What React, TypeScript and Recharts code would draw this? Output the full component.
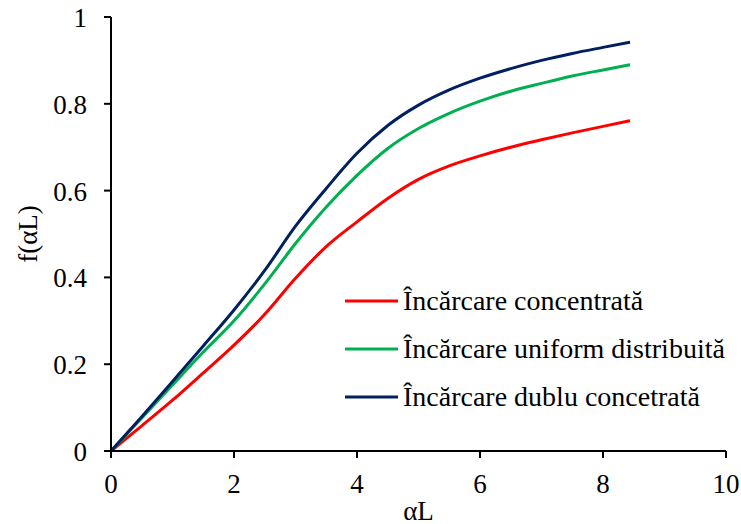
import React from "react";
import { LineChart, Line, XAxis, YAxis, Legend } from "recharts";

const xValues = [0, 0.5, 1, 1.5, 2, 2.5, 3, 3.5, 4, 4.5, 5, 5.5, 6, 6.5, 7, 7.5, 8, 8.44];
const concentrata = [0, 0.058, 0.117, 0.18, 0.244, 0.315, 0.398, 0.471, 0.528, 0.582, 0.626, 0.657, 0.68, 0.7, 0.717, 0.733, 0.748, 0.761];
const uniform = [0, 0.076, 0.152, 0.228, 0.3, 0.385, 0.478, 0.562, 0.635, 0.697, 0.743, 0.778, 0.806, 0.829, 0.847, 0.864, 0.878, 0.89];
const dublu = [0, 0.079, 0.16, 0.242, 0.325, 0.416, 0.518, 0.605, 0.686, 0.75, 0.797, 0.832, 0.859, 0.881, 0.9, 0.916, 0.93, 0.942];
const xTicks = [0, 2, 4, 6, 8, 10];
const yTicks = [0, 0.2, 0.4, 0.6, 0.8, 1];

const seriesNames = [
  "Încărcare concentrată",
  "Încărcare uniform distribuită",
  "Încărcare dublu concetrată",
];
const colors = ["#FF0000", "#00B050", "#002060"];

const data = xValues.map((x, i) => ({
  x,
  a: concentrata[i],
  b: uniform[i],
  c: dublu[i],
}));

const FONT = "'Liberation Serif', 'Times New Roman', serif";
const FS = 27;

const LegendContent = () => (
  <div style={{ fontFamily: FONT, fontSize: 28, color: "#000" }}>
    {seriesNames.map((n, i) => (
      <div key={n} style={{ display: "flex", alignItems: "center", height: 48 }}>
        <svg width={58} height={10} style={{ display: "block" }}>
          <line x1={0} y1={5} x2={53} y2={5} stroke={colors[i]} strokeWidth={3} />
        </svg>
        <span style={{ whiteSpace: "nowrap", lineHeight: "48px" }}>{n}</span>
      </div>
    ))}
  </div>
);

const XTick = (props: any) => {
  const { x, y, payload } = props;
  return (
    <text x={x} y={y} dy={31} textAnchor="middle" fontFamily={FONT} fontSize={FS} fill="#000">
      {payload.value}
    </text>
  );
};

const YTick = (props: any) => {
  const { x, y, payload } = props;
  return (
    <text x={x} y={y} dy={10} textAnchor="end" fontFamily={FONT} fontSize={FS} fill="#000">
      {payload.value}
    </text>
  );
};

export default function App() {
  return (
    <div style={{ position: "absolute", left: 0, top: 0, width: 741, height: 524, background: "#fff", fontFamily: FONT }}>
      <LineChart width={741} height={524} data={data} margin={{ top: 17, right: 15, bottom: 0, left: 0 }}>
        <XAxis
          dataKey="x"
          type="number"
          domain={[0, 10]}
          ticks={xTicks}
          tick={<XTick />}
          tickSize={7}
          tickMargin={4}
          height={73}
          axisLine={{ stroke: "#000", strokeWidth: 2 }}
          tickLine={{ stroke: "#000", strokeWidth: 2 }}
          label={{ value: "αL", position: "insideBottom", offset: 4, style: { fontFamily: FONT, fontSize: FS, fill: "#000" } }}
        />
        <YAxis
          type="number"
          domain={[0, 1]}
          ticks={yTicks}
          tick={<YTick />}
          tickSize={7}
          tickMargin={17}
          width={111}
          axisLine={{ stroke: "#000", strokeWidth: 2 }}
          tickLine={{ stroke: "#000", strokeWidth: 2 }}
          label={{ value: "f(αL)", angle: -90, position: "insideLeft", offset: 27, style: { fontFamily: FONT, fontSize: FS, fill: "#000", textAnchor: "middle" } }}
        />
        <Legend
          layout="vertical"
          align="center"
          verticalAlign="middle"
          content={<LegendContent />}
          wrapperStyle={{ left: 345, top: 277, width: 400, right: "auto", bottom: "auto", transform: "none" }}
        />
        <Line type="monotone" dataKey="a" name={seriesNames[0]} stroke={colors[0]} strokeWidth={3} dot={false} isAnimationActive={false} />
        <Line type="monotone" dataKey="b" name={seriesNames[1]} stroke={colors[1]} strokeWidth={3} dot={false} isAnimationActive={false} />
        <Line type="monotone" dataKey="c" name={seriesNames[2]} stroke={colors[2]} strokeWidth={3} dot={false} isAnimationActive={false} />
      </LineChart>
    </div>
  );
}
